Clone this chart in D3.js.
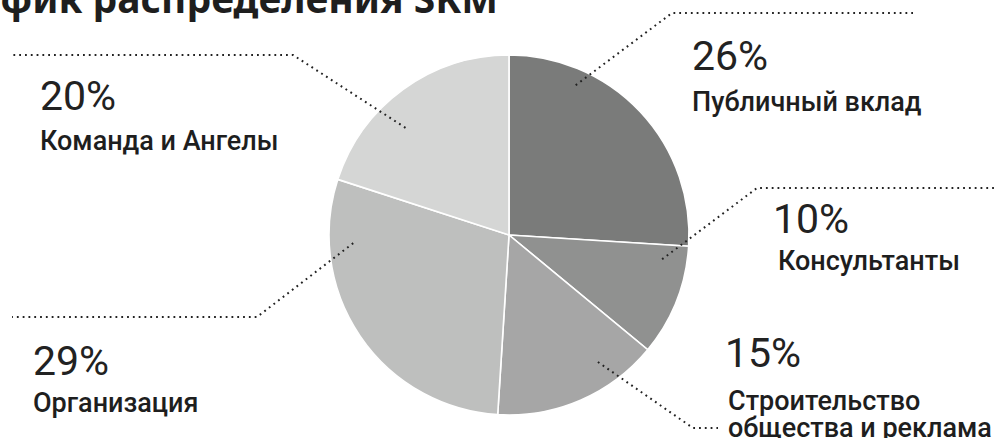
<!DOCTYPE html>
<html>
<head>
<meta charset="utf-8">
<script src="https://cdn.jsdelivr.net/npm/d3@7"></script>
<style>
  html, body { margin: 0; padding: 0; background: #fff; }
  svg { display: block; }
</style>
</head>
<body>
<svg class="chart"></svg>
<script>
// slices go clockwise from 12 o'clock
const names = ["Публичный вклад", "Консультанты", "Строительство\nобщества и реклама", "Организация", "Команда и Ангелы"];
const shares = [26, 10, 15, 29, 20];
const colors = ["#7a7b7a", "#909190", "#a6a6a6", "#bebfbe", "#d5d6d5"];

// where each callout goes (leader start angle in deg / radius, elbow, end, text spot)
const callouts = [
  { ang: 24, rad: 164, elbow: [672, 13], end: [913, 13], px: 692, py: 70, lx: 692, ly: 111 },
  { ang: 99, rad: 155, elbow: [757, 188], end: [996, 188], px: 773, py: 233, lx: 778, ly: 270 },
  { ang: 145, rad: 155, elbow: [693, 428], end: [718, 428], px: 725, py: 367, lx: 728, ly: 410 },
  { ang: 267, rad: 156, elbow: [257, 317], end: [12, 317], px: 33, py: 375, lx: 33, ly: 412 },
  { ang: 316, rad: 149, elbow: [293, 55], end: [10, 55], px: 40, py: 110, lx: 40, ly: 150 }
];

const width = 996, height = 438;
const cx = 509, cy = 235, radius = 180;

const svg = d3.select(".chart")
  .attr("width", width)
  .attr("height", height);

// title is cut off by the top edge in the source image
svg.append("text")
  .attr("x", 498)
  .attr("y", 13)
  .attr("text-anchor", "end")
  .attr("font-family", "'Noto Sans', sans-serif")
  .attr("font-weight", 700)
  .attr("font-size", 39)
  .attr("fill", "#1e1e1e")
  .text("График распределения SKM");

const pie = d3.pie().sort(null).value(d => d);
const arcs = pie(shares);
const arc = d3.arc().innerRadius(0).outerRadius(radius);

const chart = svg.append("g")
  .attr("transform", `translate(${cx}, ${cy})`);

chart.selectAll("path")
  .data(arcs)
  .enter()
  .append("path")
  .attr("d", arc)
  .attr("fill", (d, i) => colors[i])
  .attr("stroke", "#fff")
  .attr("stroke-width", 1.6);

// dotted leaders
callouts.forEach((c, i) => {
  const p = d3.pointRadial(c.ang * Math.PI / 180, c.rad);
  const pts = [[cx + p[0], cy + p[1]], c.elbow, c.end];
  svg.append("path")
    .attr("d", d3.line()(pts))
    .attr("fill", "none")
    .attr("stroke", "#222")
    .attr("stroke-width", 2)
    .attr("stroke-dasharray", "1.8 4");

  svg.append("text")
    .attr("x", c.px)
    .attr("y", c.py)
    .attr("font-family", "Roboto, sans-serif")
    .attr("font-size", 41)
    .attr("fill", "#222")
    .text(shares[i] + "%");

  const lines = names[i].split("\n");
  lines.forEach((ln, j) => {
    svg.append("text")
      .attr("x", c.lx)
      .attr("y", c.ly + j * 27)
      .attr("font-family", "Roboto, sans-serif")
      .attr("font-weight", 500)
      .attr("font-size", 27)
      .attr("fill", "#1e1e1e")
      .text(ln);
  });
});
</script>
</body>
</html>
